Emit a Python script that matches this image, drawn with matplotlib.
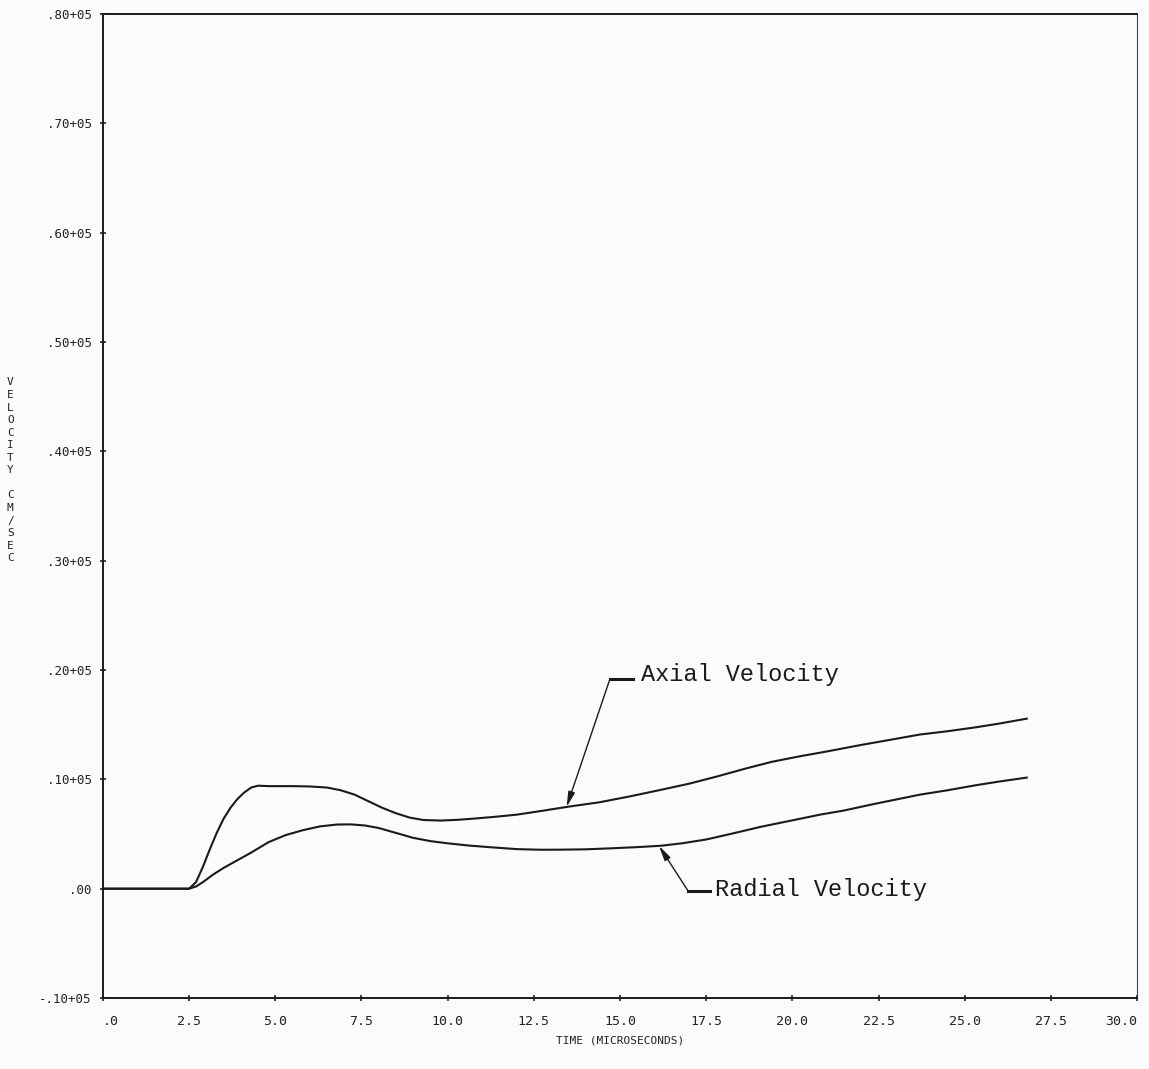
import numpy as np
import matplotlib
matplotlib.use("Agg")
import matplotlib.pyplot as plt

# Time (microseconds) and velocity (cm/sec) samples for both components
axial_t = [0, 2.5, 2.7, 2.9, 3.1, 3.3, 3.5, 3.7, 3.9, 4.1, 4.3, 4.5, 4.8, 5.5, 6.0, 6.5,
           6.9, 7.3, 7.7, 8.1, 8.5, 8.9, 9.3, 9.8, 10.3, 10.8, 11.4, 12.0, 12.7, 13.5,
           14.4, 15.3, 16.2, 17.0, 17.8, 18.6, 19.4, 20.2, 21.0, 22.0, 22.9, 23.7,
           24.5, 25.3, 26.0, 26.8]
axial_v = [0, 0, 600, 2000, 3600, 5100, 6400, 7400, 8200, 8800, 9250, 9420, 9380, 9380,
           9350, 9250, 9000, 8600, 8000, 7400, 6900, 6500, 6280, 6230, 6300, 6420, 6580,
           6770, 7100, 7500, 7900, 8450, 9050, 9600, 10250, 10950, 11600, 12100, 12550,
           13150, 13650, 14100, 14400, 14750, 15100, 15550]

radial_t = [0, 2.5, 2.7, 2.9, 3.2, 3.5, 3.9, 4.3, 4.8, 5.3, 5.8, 6.3, 6.8, 7.2, 7.6,
            8.0, 8.5, 9.0, 9.5, 10.0, 10.6, 11.2, 12.0, 12.7, 13.3, 14.0, 14.8, 15.5,
            16.2, 16.8, 17.5, 18.2, 19.1, 20.0, 20.8, 21.5, 22.3, 23.0, 23.7, 24.5,
            25.3, 26.0, 26.8]
radial_v = [0, 0, 200, 600, 1300, 1900, 2600, 3300, 4250, 4900, 5350, 5700, 5870, 5880,
            5780, 5550, 5100, 4650, 4350, 4150, 3950, 3800, 3620, 3560, 3570, 3600, 3700,
            3800, 3930, 4150, 4500, 5000, 5670, 6250, 6770, 7150, 7700, 8150, 8600, 9000,
            9450, 9800, 10160]

x_ticks = [0, 2.5, 5.0, 7.5, 10.0, 12.5, 15.0, 17.5, 20.0, 22.5, 25.0, 27.5, 30.0]
x_tick_labels = [".0", "2.5", "5.0", "7.5", "10.0", "12.5", "15.0", "17.5",
                 "20.0", "22.5", "25.0", "27.5", "30.0"]
y_ticks = [-10000, 0, 10000, 20000, 30000, 40000, 50000, 60000, 70000, 80000]
y_tick_labels = ["-.10+05", ".00", ".10+05", ".20+05", ".30+05", ".40+05",
                 ".50+05", ".60+05", ".70+05", ".80+05"]

fig = plt.figure(figsize=(11.49, 10.69), dpi=100)
fig.patch.set_facecolor("#fbfbfb")
ax = fig.add_axes([0.0896, 0.0664, 0.900, 0.9205])
ax.set_facecolor("#fbfbfb")

ax.plot(axial_t, axial_v, color="#1a1a1a", lw=1.5)
ax.plot(radial_t, radial_v, color="#1a1a1a", lw=1.5)

ax.set_xlim(0, 30)
ax.set_ylim(-10000, 80000)

mono = "DejaVu Sans Mono"
ax.set_xticks(x_ticks)
ax.set_xticklabels(x_tick_labels, family=mono, fontsize=9.5, color="#222222")
ax.get_xticklabels()[0].set_ha("left")
ax.get_xticklabels()[-1].set_ha("right")
ax.set_yticks(y_ticks)
ax.set_yticklabels(y_tick_labels, family=mono, fontsize=9, color="#222222")
ax.tick_params(axis="both", direction="inout", length=4, width=1.2, color="#222222")
ax.tick_params(axis="x", pad=10)
ax.tick_params(axis="y", pad=6)

for side in ["left", "bottom", "top"]:
    ax.spines[side].set_linewidth(1.4)
    ax.spines[side].set_color("#1a1a1a")
ax.spines["right"].set_linewidth(0.8)
ax.spines["right"].set_color("#444444")

# Axis titles
fig.text(0.54, 0.027, "TIME (MICROSECONDS)", family=mono, fontsize=8,
         ha="center", va="center", color="#222222")
fig.text(0.009, 0.56, "\n".join("VELOCITY CM/SEC"), family=mono, fontsize=8,
         ha="center", va="center", color="#222222", linespacing=1.32)

# Curve callouts
callout_font = "Liberation Mono"

tip_a = (13.45, float(np.interp(13.45, axial_t, axial_v)))
ax.annotate("", xy=tip_a, xytext=(14.71, 19200),
            arrowprops=dict(arrowstyle="-|>,head_length=0.9,head_width=0.2",
                            color="#1a1a1a", lw=1.0, shrinkA=0, shrinkB=0))
ax.plot([14.71, 15.38], [19200, 19200], color="#1a1a1a", lw=2.2)
ax.text(15.62, 19550, "Axial Velocity", family=callout_font, fontsize=17,
        ha="left", va="center", color="#1a1a1a")

tip_r = (16.13, float(np.interp(16.13, radial_t, radial_v)))
ax.annotate("", xy=tip_r, xytext=(16.97, -180),
            arrowprops=dict(arrowstyle="-|>,head_length=0.9,head_width=0.2",
                            color="#1a1a1a", lw=1.0, shrinkA=0, shrinkB=0))
ax.plot([16.97, 17.61], [-180, -180], color="#1a1a1a", lw=2.2)
ax.text(17.75, -80, "Radial Velocity", family=callout_font, fontsize=17,
        ha="left", va="center", color="#1a1a1a")

fig.savefig("out.png", dpi=100, facecolor=fig.get_facecolor())
